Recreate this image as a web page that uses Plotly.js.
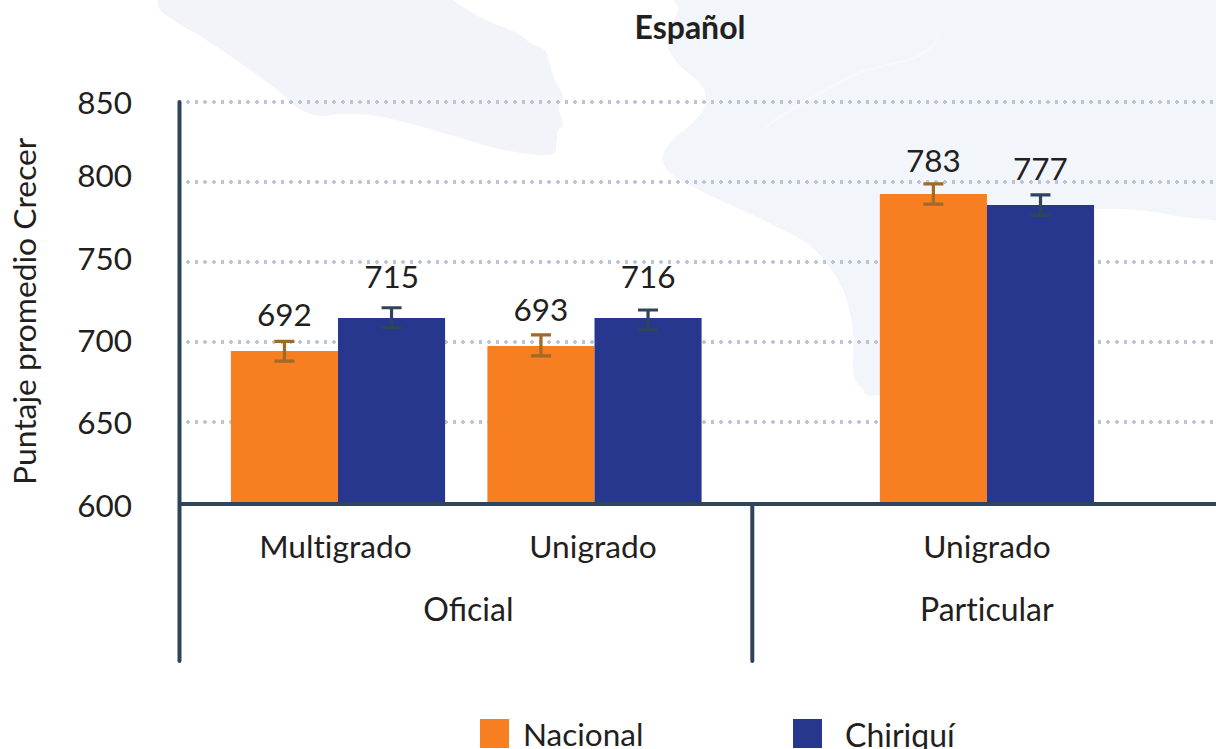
<!DOCTYPE html>
<html>
<head>
<meta charset="utf-8">
<script src="https://cdn.plot.ly/plotly-3.0.1.min.js"></script>
<style>
html,body{margin:0;padding:0;background:#fff;overflow:hidden}
#chart{width:1216px;height:749px}
.ygrid{stroke-linecap:round;stroke-dashoffset:1.6px}
.shapelayer path{stroke-linecap:round}
svg text{font-variant-ligatures:none !important}
.annotation[data-index="1"] text{font-variant-ligatures:normal !important}
</style>
</head>
<body>
<div id="chart"></div>
<script>
// ---- data ----
const subCategories = ["Multigrado", "Unigrado", "Unigrado"];
const categoryPositions = [0, 1, 2.53];
const subLabelPositions = [-0.01, 0.994, 2.53];
const groupLabels = ["Oficial", "Particular"];
const groupPositions = [0.507, 2.53];
const seriesNames = ["Nacional", "Chiriquí"];
const nacionalBars = [694.4, 697.5, 792.5];
const chiriquiBars = [715, 715, 785.6];
const nacionalErrorUp = [6, 6.9, 6.3];
const nacionalErrorDown = [6.4, 6.2, 6.3];
const chiriquiErrorUp = [6.4, 5, 6.3];
const chiriquiErrorDown = [6, 7.5, 6.5];
const nacionalLabels = ["692", "693", "783"];
const chiriquiLabels = ["715", "716", "777"];
const nacionalLabelHeights = [714.8, 717.8, 811.2];
const chiriquiLabelHeights = [738.8, 738.8, 806.2];
const tickLabels = ["600", "650", "700", "750", "800", "850"];
const tickLabelHeights = [597.5, 649.2, 700.8, 752.2, 803.9, 849.7];
const gridValues = [650, 700, 750, 800, 850];

// ---- style ----
const ORANGE = "#f77f21", BLUE = "#27378e", SLATE = "#2f4458", INK = "#231f20";
const FONT = "Lato, 'Open Sans', sans-serif";
const L = 181, T = 100, W = 1035, H = 410, UNDER = 8;
const px = x => (x - L) / W;
const py = y => 1 - (y - T) / H;
const halfBar = 0.835 / 4;

// background silhouette outlines, page pixels
const leftBlob = [[25,-10],[30,30],[75,65],[150,110],[260,185],[380,275],[430,320],[490,347],[560,343],[650,345],[760,370],[900,410],[1040,450],[1175,465],[1195,430],[1200,390],[1215,375],[1205,340],[1200,320],[1215,290],[1190,240],[1175,190],[1160,150],[1120,130],[1080,100],[1010,70],[950,40],[880,-10],[850,-60],[500,-90],[60,-60]]
  .map(p => [150 + p[0] / 2.94, p[1] / 3]);
const rightBlob = [[35,-10],[50,30],[20,120],[50,190],[120,260],[125,320],[90,370],[30,425],[8,475],[30,520],[110,570],[250,640],[400,720],[470,790],[520,880],[545,1000],[545,1120],[570,1165],[620,1185],[900,1100],[1100,800],[1170,650],[1224,628],[1350,630],[1470,650],[1568,662],[1660,680],[1720,300],[1660,-60],[800,-90],[60,-60]]
  .map(p => [660 + p[0] / 2.82, p[1] / 3]);
const sweep = [[290,392],[330,350],[450,275],[560,215],[650,188],[720,168],[770,130],[780,105],[775,135],[725,175],[650,196],[560,225],[450,285],[340,355]]
  .map(p => [660 + p[0] / 2.82, p[1] / 3]);

function smoothPath(pts) {
  const n = pts.length;
  let d = "M" + px(pts[0][0]) + "," + py(pts[0][1]);
  for (let i = 0; i < n; i++) {
    const p0 = pts[(i - 1 + n) % n], p1 = pts[i], p2 = pts[(i + 1) % n], p3 = pts[(i + 2) % n];
    const c1 = [p1[0] + (p2[0] - p0[0]) / 6, p1[1] + (p2[1] - p0[1]) / 6];
    const c2 = [p2[0] - (p3[0] - p1[0]) / 6, p2[1] - (p3[1] - p1[1]) / 6];
    d += "C" + px(c1[0]) + "," + py(c1[1]) + " " + px(c2[0]) + "," + py(c2[1]) + " " + px(p2[0]) + "," + py(p2[1]);
  }
  return d + "Z";
}
const blob = (pts, color) => ({type:"path", xref:"paper", yref:"paper", path:smoothPath(pts), fillcolor:color, line:{width:0}, layer:"below"});
const vline = (x, y0, y1) => ({type:"line", xref:"paper", yref:"paper", x0:px(x), x1:px(x), y0:py(y0), y1:py(y1), line:{color:SLATE, width:4}, layer:"above"});
const swatch = (x0, x1, color) => ({type:"rect", xref:"paper", yref:"paper", x0:px(x0), x1:px(x1), y0:py(719), y1:py(748), fillcolor:color, line:{width:0}, layer:"above"});
const textNote = (text, x, y, size, extra) => Object.assign({text, x:px(x), y:py(y), xref:"paper", yref:"paper", showarrow:false, xanchor:"center", yanchor:"middle", font:{family:FONT, size, color:INK}}, extra||{});

const barTrace = (name, y, up, down, color, errColor) => ({
  type:"bar", name, x:categoryPositions, y, marker:{color, line:{width:0}},
  error_y:{type:"data", symmetric:false, array:up, arrayminus:down, visible:true, color:errColor, thickness:3.2, width:10},
  hoverinfo:"skip"
});
const labelTrace = (name, shift, y, text) => ({
  type:"scatter", mode:"text", name, x:categoryPositions.map(v => v + shift), y, text,
  textposition:"middle center", textfont:{family:FONT, size:31.5, color:INK},
  yaxis:"y2", showlegend:false, hoverinfo:"skip", cliponaxis:false
});

const traces = [
  barTrace(seriesNames[0], nacionalBars, nacionalErrorUp, nacionalErrorDown, ORANGE, "#a06a28"),
  barTrace(seriesNames[1], chiriquiBars, chiriquiErrorUp, chiriquiErrorDown, BLUE, SLATE),
  labelTrace(seriesNames[0] + " labels", -halfBar, nacionalLabelHeights, nacionalLabels),
  labelTrace(seriesNames[1] + " labels", halfBar, chiriquiLabelHeights, chiriquiLabels)
];

const layout = {
  width:1216, height:749,
  margin:{l:L, r:0, t:T, b:749 - T - H, pad:0},
  paper_bgcolor:"#ffffff", plot_bgcolor:"rgba(0,0,0,0)",
  showlegend:false, barmode:"group", bargap:0.165, bargroupgap:0,
  title:{text:"<b>Español</b>", font:{family:FONT, size:32, color:INK}, x:690/1216, xref:"container", xanchor:"center", y:1 - 28/749, yref:"container", yanchor:"middle"},
  xaxis:{type:"linear", anchor:"y", range:[-(338 - L)/256.5, (1216 - 338)/256.5], tickmode:"array", tickvals:subLabelPositions, ticktext:subCategories,
    tickfont:{family:FONT, size:31.7, color:INK}, ticks:"", showgrid:false, zeroline:false, showline:true, linecolor:SLATE, linewidth:4, ticklabelstandoff:14},
  yaxis:{domain:[UNDER/H, 1], range:[600, 851.25], tickmode:"array", tickvals:gridValues, showticklabels:false, ticks:"", zeroline:false, showline:false,
    showgrid:true, gridcolor:"#bcc4da", gridwidth:3.8, griddash:"0px,8.6px"},
  yaxis2:{domain:[0, 1], anchor:"x", side:"left", range:[595, 851.25], tickmode:"array", tickvals:tickLabelHeights, ticktext:tickLabels,
    tickfont:{family:FONT, size:31.5, color:INK}, ticks:"", showgrid:false, zeroline:false, showline:false, ticklabelstandoff:48},
  shapes:[
    blob(leftBlob, "#f3f4f9"),
    blob(rightBlob, "#f2f5fa"),
    blob(sweep, "#f6f8fb"),
    vline(179.5, 102, 661),
    vline(752.3, 504, 661),
    swatch(480, 509, ORANGE),
    swatch(793, 822, BLUE)
  ],
  annotations:[
    textNote("Puntaje promedio Crecer", 24, 311, 31.8, {textangle:-90}),
    textNote(groupLabels[0], 0, 608.5, 32, {x:groupPositions[0], xref:"x"}),
    textNote(groupLabels[1], 0, 608.5, 32, {x:groupPositions[1], xref:"x"}),
    textNote(seriesNames[0], 521, 734, 31.5, {xanchor:"left"}),
    textNote(seriesNames[1], 843, 734, 32, {xanchor:"left"})
  ]
};
Plotly.newPlot("chart", traces, layout, {displayModeBar:false, staticPlot:true});
</script>
</body>
</html>
